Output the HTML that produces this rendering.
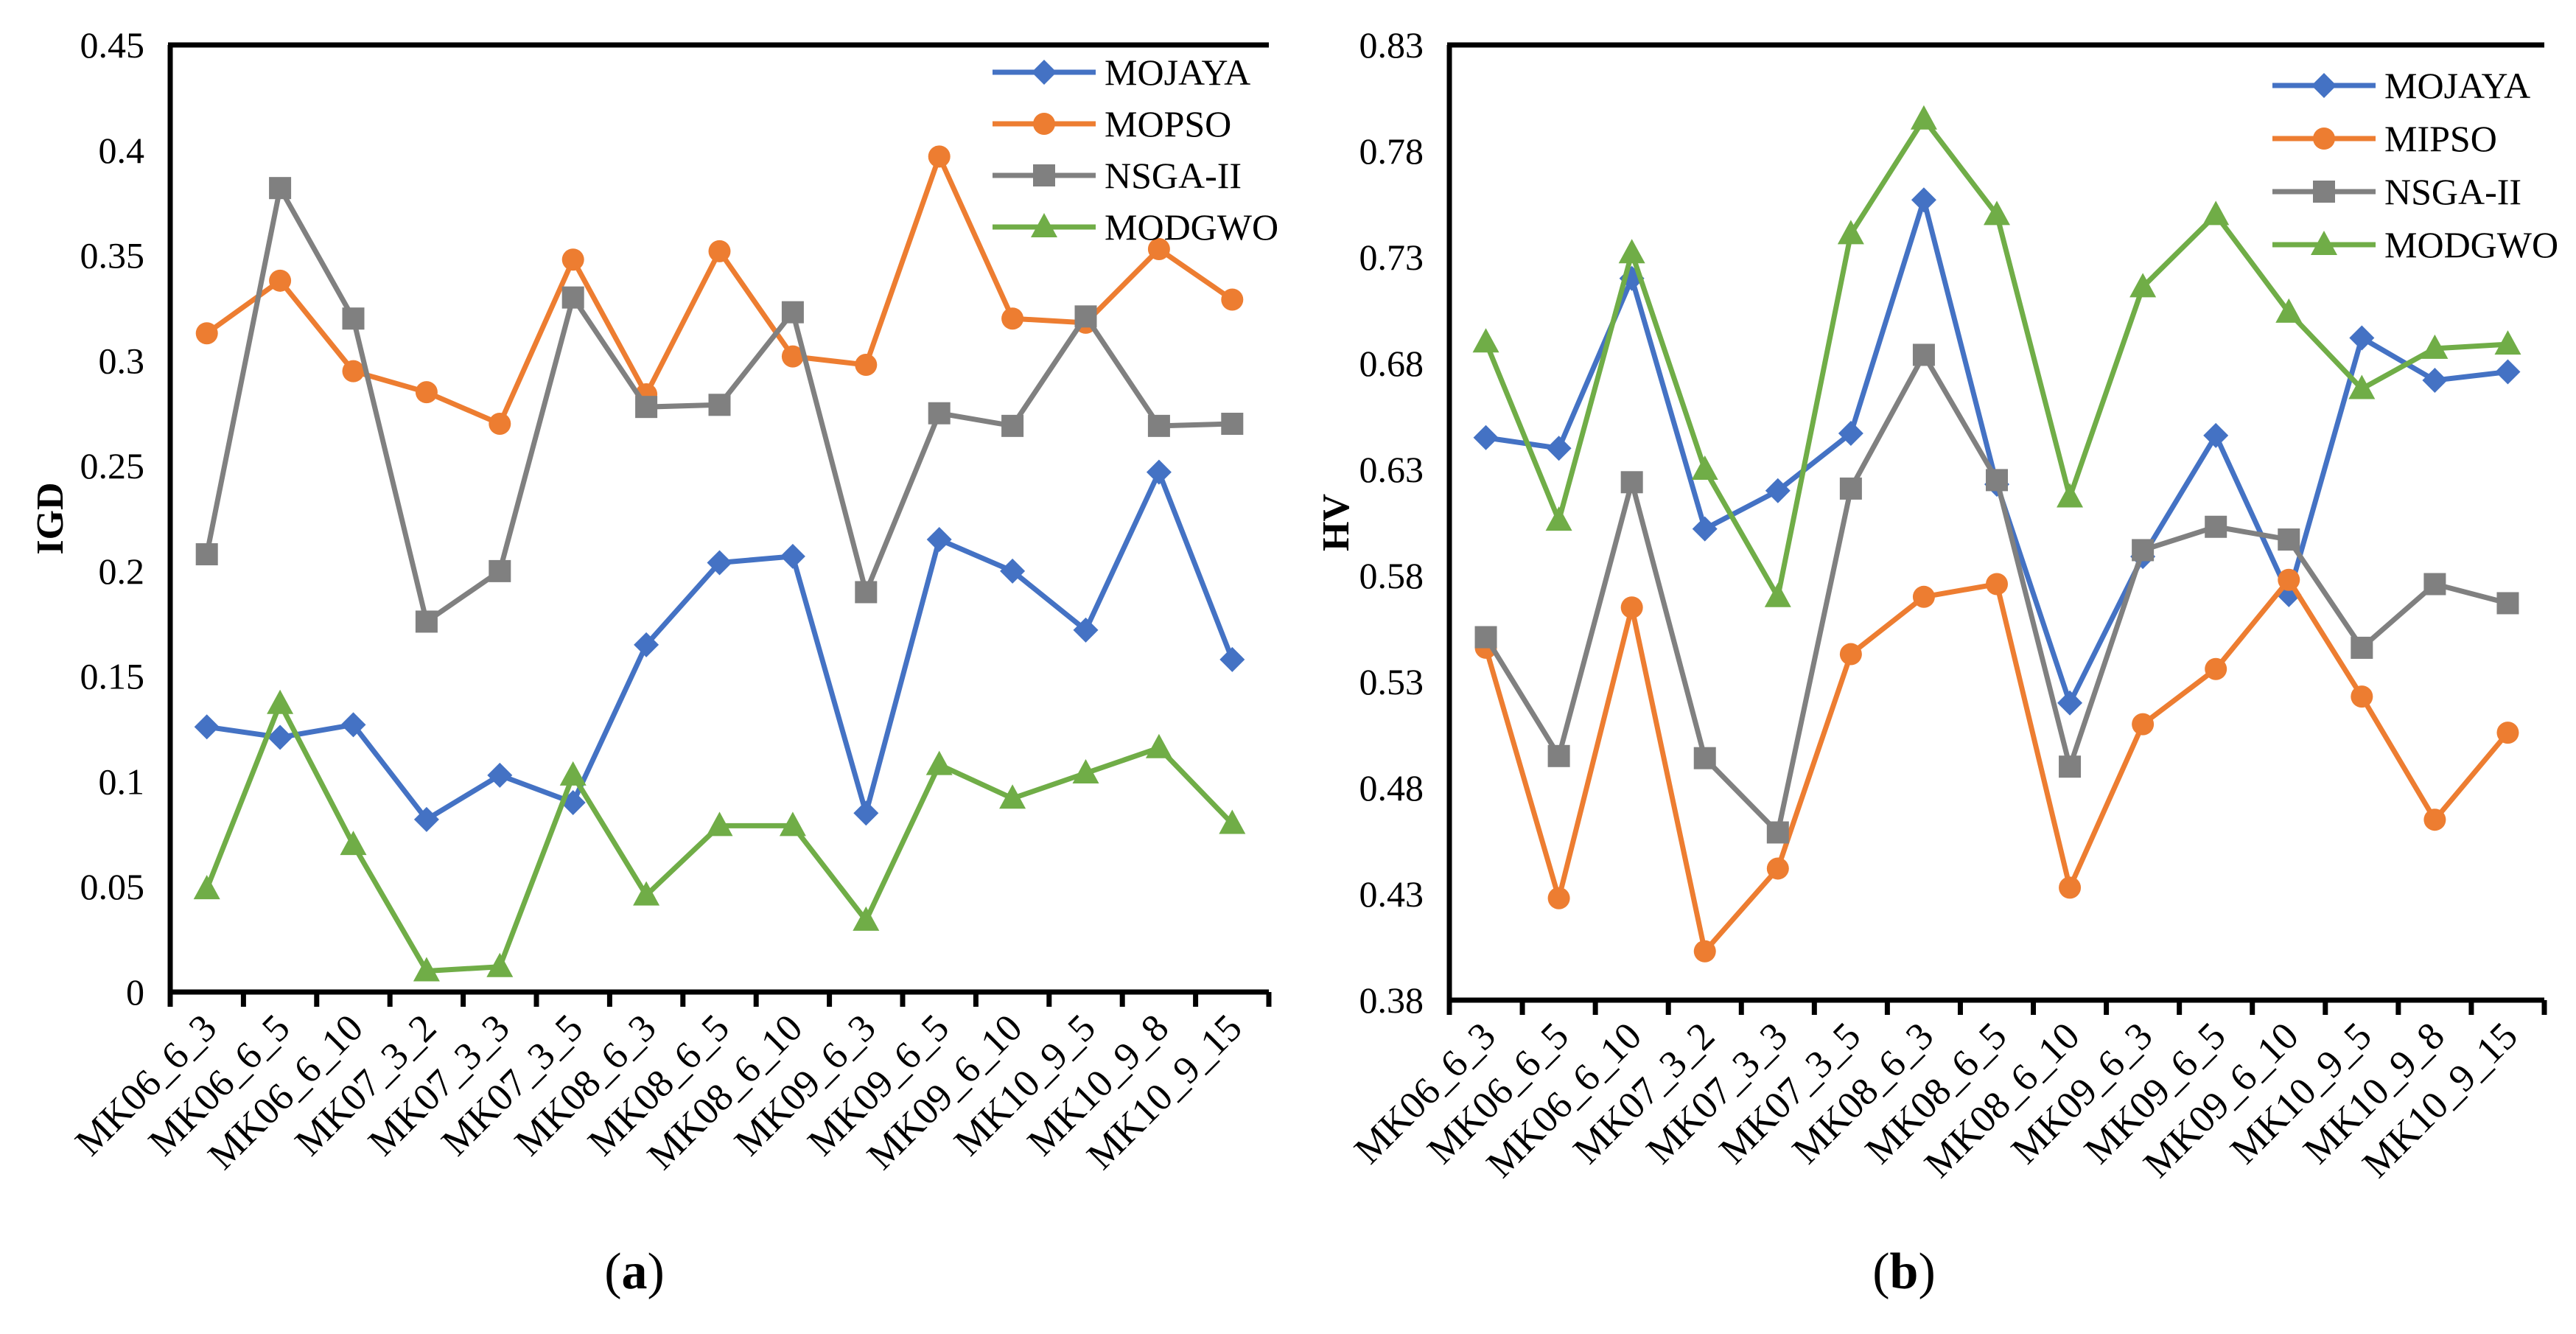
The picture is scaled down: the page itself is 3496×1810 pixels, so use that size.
<!DOCTYPE html>
<html><head><meta charset="utf-8">
<style>
html,body{margin:0;padding:0;background:#fff;}
svg{display:block;font-family:"Liberation Serif","Times New Roman",serif;}
</style></head>
<body>
<svg id="fig" width="3496" height="1810" viewBox="0 0 3496 1810" xmlns="http://www.w3.org/2000/svg"></svg>
<script>
const categories = ["MK06_6_3","MK06_6_5","MK06_6_10","MK07_3_2","MK07_3_3","MK07_3_5","MK08_6_3","MK08_6_5","MK08_6_10","MK09_6_3","MK09_6_5","MK09_6_10","MK10_9_5","MK10_9_8","MK10_9_15"];
const igdMojaya = [0.126,0.121,0.127,0.082,0.103,0.090,0.165,0.204,0.207,0.085,0.215,0.200,0.172,0.247,0.158];
const igdMopso  = [0.313,0.338,0.295,0.285,0.270,0.348,0.284,0.352,0.302,0.298,0.397,0.320,0.318,0.353,0.329];
const igdNsga   = [0.208,0.382,0.320,0.176,0.200,0.330,0.278,0.279,0.323,0.190,0.275,0.269,0.321,0.269,0.270];
const igdModgwo = [0.049,0.137,0.070,0.010,0.012,0.103,0.046,0.079,0.079,0.034,0.108,0.092,0.104,0.116,0.080];
const hvMojaya = [0.645,0.640,0.720,0.602,0.620,0.647,0.757,0.623,0.520,0.589,0.646,0.571,0.692,0.672,0.676];
const hvMipso  = [0.546,0.428,0.565,0.403,0.442,0.543,0.570,0.576,0.433,0.510,0.536,0.578,0.523,0.465,0.506];
const hvNsga   = [0.551,0.495,0.624,0.494,0.459,0.621,0.684,0.625,0.490,0.592,0.603,0.597,0.546,0.576,0.567];
const hvModgwo = [0.690,0.606,0.732,0.630,0.570,0.741,0.795,0.750,0.617,0.716,0.750,0.704,0.668,0.687,0.689];
const igdTicks = ["0","0.05","0.1","0.15","0.2","0.25","0.3","0.35","0.4","0.45"];
const hvTicks = ["0.38","0.43","0.48","0.53","0.58","0.63","0.68","0.73","0.78","0.83"];
const igdNames = ["MOJAYA","MOPSO","NSGA-II","MODGWO"];
const hvNames = ["MOJAYA","MIPSO","NSGA-II","MODGWO"];

const NS="http://www.w3.org/2000/svg";
const svg=document.getElementById('fig');
const COLORS=["#4472C4","#ED7D31","#808080","#70AD47"];
const SHAPES=["diamond","circle","square","triangle"];
function mk(tag,attrs,parent){const e=document.createElementNS(NS,tag);for(const k in attrs)e.setAttribute(k,attrs[k]);(parent||svg).appendChild(e);return e;}
function marker(shape,x,y,color,g){
  let e;
  if(shape==="diamond") e=mk('polygon',{points:`${x},${y-17} ${x+17},${y} ${x},${y+17} ${x-17},${y}`,fill:color},g);
  else if(shape==="circle") e=mk('circle',{cx:x,cy:y,r:15,fill:color},g);
  else if(shape==="square") e=mk('rect',{x:x-15,y:y-15,width:30,height:30,fill:color},g);
  else e=mk('polygon',{points:`${x},${y-19} ${x+18},${y+14} ${x-18},${y+14}`,fill:color},g);
  return e;
}
function chart(cfg){
  const {x0,x1,y0,y1,vmin,vmax,ticks,series,names,title,titleX,legX,legY,legDy,caption,capX,prefix}=cfg;
  const g=mk('g',{});
  
  
  const n=categories.length, bw=(x1-x0)/n;
  const xs=i=>x0+bw*(i+0.5);
  const ys=v=>y1-(v-vmin)/(vmax-vmin)*(y1-y0);
  let a=mk('line',{x1:x0,y1:y0,x2:x0,y2:y1+3,stroke:'#000','stroke-width':7},g);
  
  a=mk('line',{x1:x0-3,y1:y1,x2:x1,y2:y1,stroke:'#000','stroke-width':7},g);
  
  a=mk('line',{x1:x0-3,y1:y0,x2:x1,y2:y0,stroke:'#000','stroke-width':7},g);
  
  for(let i=0;i<=n;i++){
    const tx=x0+bw*i;
    const t=mk('line',{x1:tx,y1:y1,x2:tx,y2:y1+20,stroke:'#000','stroke-width':7},g);
    
  }
  ticks.forEach((lab)=>{
    const v=parseFloat(lab);
    const t=mk('text',{x:x0-35,y:ys(v)+17,'text-anchor':'end','font-size':50},g);
    t.textContent=lab;
    
  });
  categories.forEach((c,i)=>{
    const px=xs(i)+16,py=y1+52;
    const t=mk('text',{x:px,y:py,'text-anchor':'end','font-size':53,transform:`rotate(-45 ${px} ${py})`},g);
    t.textContent=c;
    
  });
  const tt=mk('text',{x:titleX,y:(y0+y1)/2,'text-anchor':'middle','font-size':52,'font-weight':'bold',transform:`rotate(-90 ${titleX} ${(y0+y1)/2})`},g);
  tt.textContent=title;
  series.forEach((s,k)=>{
    const sg=mk('g',{},g);
    
    
    const pl=mk('polyline',{points:s.map((v,i)=>xs(i)+','+ys(v)).join(' '),fill:'none',stroke:COLORS[k],'stroke-width':7,'stroke-linejoin':'round'},sg);
    
    s.forEach((v,i)=>{const m=marker(SHAPES[k],xs(i),ys(v),COLORS[k],sg);
      });
    const lg=mk('g',{},g);
    
    
    const ly=legY+legDy*k;
    mk('line',{x1:legX,y1:ly,x2:legX+140,y2:ly,stroke:COLORS[k],'stroke-width':7},lg);
    marker(SHAPES[k],legX+70,ly,COLORS[k],lg);
    const lt=mk('text',{x:legX+152,y:ly+17,'font-size':50},lg);
    lt.textContent=names[k];
  });
  const cp=mk('text',{x:capX,y:1748,'text-anchor':'middle','font-size':70},svg);
  cp.innerHTML='(<tspan font-weight="bold">'+caption+'</tspan>)';
  
}
chart({x0:231,x1:1722,y0:61,y1:1346,vmin:0,vmax:0.45,ticks:igdTicks,series:[igdMojaya,igdMopso,igdNsga,igdModgwo],names:igdNames,title:"IGD",titleX:85,legX:1347,legY:98,legDy:70,caption:"a",capX:861,prefix:"igd"});
chart({x0:1967,x1:3453,y0:61,y1:1357,vmin:0.38,vmax:0.83,ticks:hvTicks,series:[hvMojaya,hvMipso,hvNsga,hvModgwo],names:hvNames,title:"HV",titleX:1830,legX:3084,legY:116,legDy:72,caption:"b",capX:2584,prefix:"hv"});
</script>
</body></html>
